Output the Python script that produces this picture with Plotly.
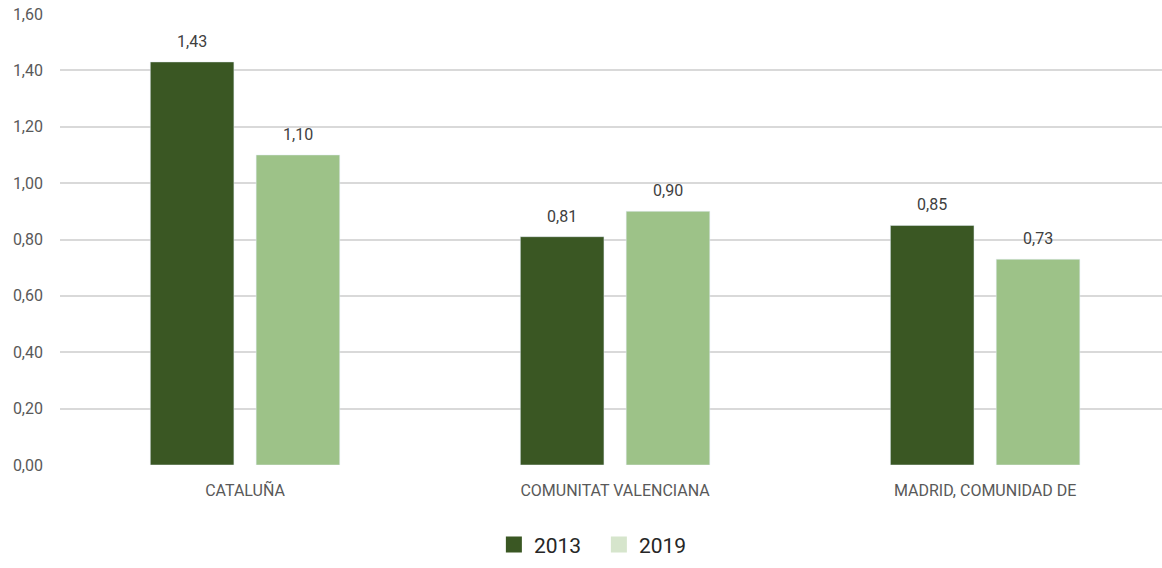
import plotly.graph_objects as go

categories = ["CATALUÑA", "COMUNITAT VALENCIANA", "MADRID, COMUNIDAD DE"]
values_2013 = [1.43, 0.81, 0.85]
values_2019 = [1.10, 0.90, 0.73]
y_ticks = [0, 0.2, 0.4, 0.6, 0.8, 1.0, 1.2, 1.4, 1.6]

dark = "#3a5723"
light = "#9dc288"
light_legend = "#d6e5cc"

def fmt(v):
    return f"{v:.2f}".replace(".", ",")

fig = go.Figure()
fig.add_trace(go.Bar(x=categories, y=values_2013, marker_color=dark, showlegend=False))
fig.add_trace(go.Bar(x=categories, y=values_2019, marker_color=light, showlegend=False))
fig.add_trace(go.Scatter(x=[None], y=[None], mode="markers", name="2013",
                         marker=dict(symbol="square", size=20, color=dark)))
fig.add_trace(go.Scatter(x=[None], y=[None], mode="markers", name="2019",
                         marker=dict(symbol="square", size=20, color=light_legend)))

for series, shift in ((values_2013, -53), (values_2019, 53)):
    for cat, v in zip(categories, series):
        fig.add_annotation(x=cat, y=v, xref="x", yref="y", text=fmt(v), showarrow=False,
                           xshift=shift, yanchor="bottom", yshift=9,
                           font=dict(family="Roboto", size=16, color="#404040"))

fig.update_layout(
    width=1162, height=568,
    margin=dict(l=60, r=0, t=14, b=103),
    paper_bgcolor="white", plot_bgcolor="white",
    font=dict(family="Roboto", size=16, color="#595959"),
    barmode="group", bargap=0.428, bargroupgap=0.21,
    legend=dict(orientation="h", x=0.489, xanchor="center", y=-0.177, yanchor="middle",
                font=dict(size=21, color="#262626"), itemwidth=30, tracegroupgap=0,
                entrywidth=60),
    xaxis=dict(showline=False, ticks="", tickfont=dict(size=16, color="#595959"),
               ticklabelstandoff=14, range=[-0.5, 2.478]),
    yaxis=dict(range=[0, 1.6], tickvals=y_ticks, ticktext=[fmt(v) for v in y_ticks],
               showgrid=True, gridcolor="#d9d9d9", gridwidth=1.5, zeroline=False,
               tickfont=dict(size=16, color="#595959"), ticklabelstandoff=16),
)

fig.write_html("out.html")
